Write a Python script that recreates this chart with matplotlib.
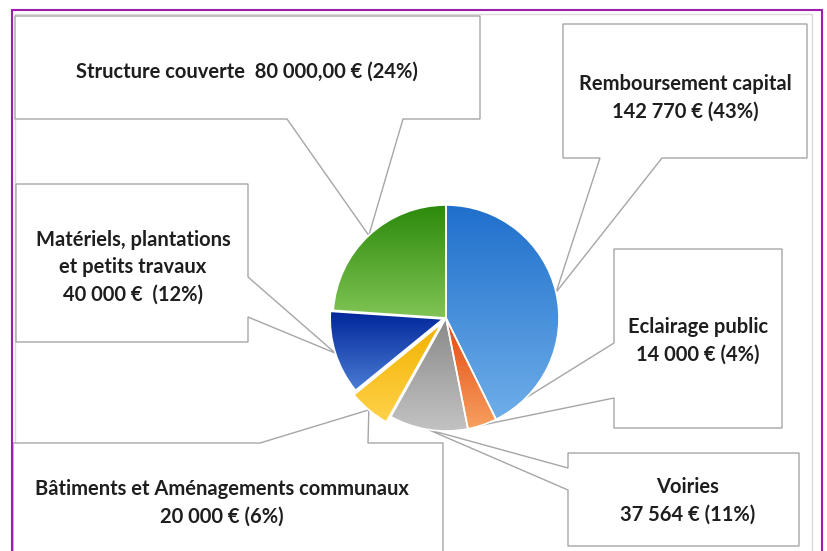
import numpy as np
import matplotlib
matplotlib.use("Agg")
import matplotlib.pyplot as plt
from matplotlib.patches import Polygon, Rectangle
from matplotlib.colors import to_rgb

# === budget pie with callout boxes ===

W, H = 827, 551

categories = ["Remboursement capital", "Eclairage public", "Voiries",
              "Bâtiments et Aménagements communaux",
              "Matériels, plantations et petits travaux", "Structure couverte"]
amounts = [142770, 14000, 37564, 20000, 40000, 80000]
label_texts = [
    "Remboursement capital\n142 770 € (43%)",
    "Eclairage public\n14 000 € (4%)",
    "Voiries\n37 564 € (11%)",
    "Bâtiments et Aménagements communaux\n20 000 € (6%)",
    "Matériels, plantations\net petits travaux\n40 000 €  (12%)",
    "Structure couverte  80 000,00 € (24%)",
]

# top colour, bottom colour of each slice gradient
grad_top = ["#1f6fcc", "#e4480f", "#8a8a8a", "#f2b200", "#00259a", "#2c8a0c"]
grad_bot = ["#6eaee9", "#f7a060", "#c2c2c2", "#ffd24a", "#4a7cd4", "#80c455"]
explode = [0, 0, 0, 7, 3, 0]

# callout boxes in pixel coords: (x0, y0, x1, y1), side of the pointer, base span
boxes = [
    ((563, 24, 807, 158), "bottom", (600, 662)),
    ((614, 249, 782, 428), "left", (343, 398)),
    ((568, 453, 799, 546), "left", (468, 490)),
    ((13, 443, 443, 570), "top", (260, 368)),
    ((16, 184, 248, 342), "right", (277, 317)),
    ((15, 16, 480, 119), "bottom", (287, 403)),
]
text_pos = [(685, 98), (698, 341), (688, 501), (222, 503), (133, 267), (247, 72)]

center = (446, H - 318)
radius = 113

fig = plt.figure(figsize=(W / 100, H / 100), dpi=100)
ax = fig.add_axes([0, 0, 1, 1])

wedges, _ = ax.pie(amounts, center=center, radius=radius, startangle=90,
                   counterclock=False, explode=explode, frame=True,
                   wedgeprops=dict(edgecolor="white", linewidth=1.2, zorder=4))

for i, w in enumerate(wedges):
    w.set_facecolor("none")
    bb = w.get_path().get_extents(w.get_transform() - ax.transData)
    c1, c2 = np.array(to_rgb(grad_top[i])), np.array(to_rgb(grad_bot[i]))
    t = np.linspace(0, 1, 100)[:, None]
    img = (c1 * (1 - t) + c2 * t)[:, None, :]
    im = ax.imshow(img, extent=(bb.x0, bb.x1, bb.y0, bb.y1), origin="upper",
                   aspect="auto", zorder=3, interpolation="bilinear")
    im.set_clip_path(w)


def callout(box, side, base, tip):
    x0, y0, x1, y1 = box
    b1, b2 = base
    pts = [(x0, y0)]
    if side == "top":
        pts += [(b1, y0), tip, (b2, y0)]
    pts += [(x1, y0)]
    if side == "right":
        pts += [(x1, b1), tip, (x1, b2)]
    pts += [(x1, y1)]
    if side == "bottom":
        pts += [(b2, y1), tip, (b1, y1)]
    pts += [(x0, y1)]
    if side == "left":
        pts += [(x0, b2), tip, (x0, b1)]
    return [(px, H - py) for px, py in pts]


for i, w in enumerate(wedges):
    mid = np.deg2rad((w.theta1 + w.theta2) / 2)
    tx = w.center[0] + w.r * np.cos(mid)
    ty = w.center[1] + w.r * np.sin(mid)
    box, side, base = boxes[i]
    poly = Polygon(callout(box, side, base, (tx, H - ty)), closed=True,
                   facecolor="white", edgecolor="#a6a6a6", linewidth=1.0, zorder=2)
    ax.add_patch(poly)
    ax.text(text_pos[i][0], H - text_pos[i][1], label_texts[i], ha="center",
            va="center", multialignment="center", fontsize=14.5,
            fontweight="bold", family=["Lato", "DejaVu Sans"],
            color="#1e1e1e", linespacing=1.45, zorder=5)

# outer frames
ax.add_patch(Rectangle((15, -10), 797, H - 14 + 10, fill=False,
                       edgecolor="#d9d9d9", linewidth=1.0, zorder=1))
ax.add_patch(Rectangle((12, -10), 810, H - 10 + 10, fill=False,
                       edgecolor="#9b1fa8", linewidth=1.5, zorder=6))

ax.set_xlim(0, W)
ax.set_ylim(0, H)
ax.axis("off")
fig.savefig("out.png", dpi=100)
